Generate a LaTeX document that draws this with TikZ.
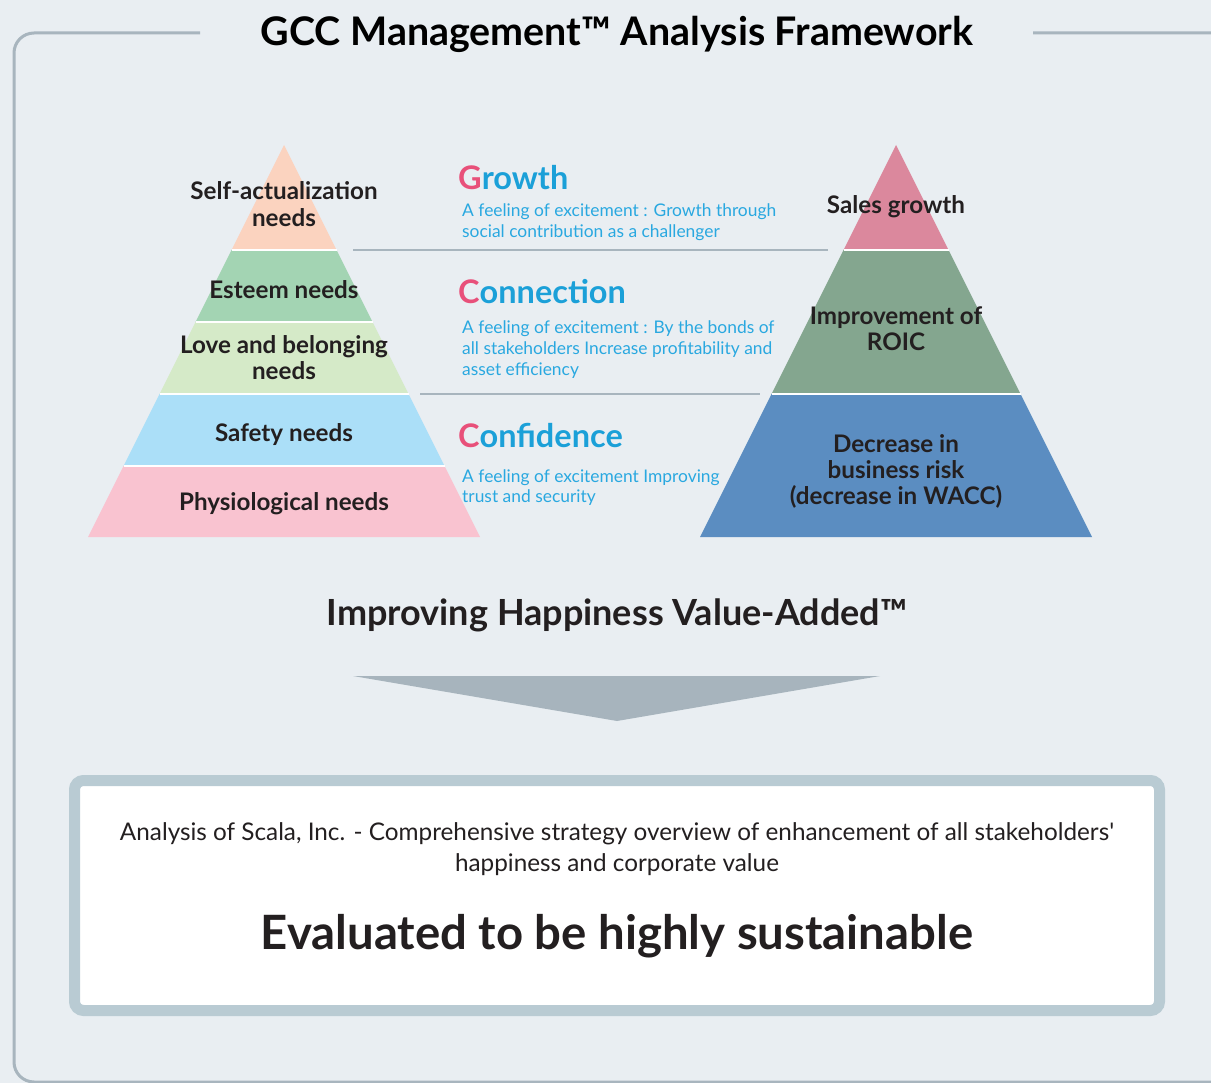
\documentclass[tikz,border=0pt]{standalone}
\usepackage{fontspec}
\setmainfont{Lato}[Ligatures=TeXOff]
\definecolor{bg}{HTML}{E9EEF2}
\definecolor{framec}{HTML}{A8B5BE}
\definecolor{peach}{HTML}{FBD3BF}
\definecolor{mgreen}{HTML}{A3D4B3}
\definecolor{lgreen}{HTML}{D5EAC8}
\definecolor{lblue}{HTML}{ABDFF8}
\definecolor{lpink}{HTML}{F9C3D0}
\definecolor{rpink}{HTML}{DB889D}
\definecolor{rgreen}{HTML}{84A68F}
\definecolor{rblue}{HTML}{5B8DC1}
\definecolor{txt}{HTML}{231F20}
\definecolor{hpink}{HTML}{E8507A}
\definecolor{hblue}{HTML}{1BA0D8}
\definecolor{dblue}{HTML}{29A8E0}
\definecolor{arrowc}{HTML}{A7B4BD}
\definecolor{boxc}{HTML}{B9CBD3}
\tikzset{
  layer/.style={fill=#1},
  lbl/.style={text=txt, font=\fontsize{24.2}{27}\selectfont\bfseries, anchor=base, inner sep=0pt},
  head/.style={text=hblue, font=\fontsize{32.5}{36}\selectfont\bfseries, anchor=base west, inner sep=0pt},
  desc/.style={text=dblue, font=\fontsize{17.4}{21}\selectfont, anchor=base west, inner sep=0pt},
  sep/.style={draw=framec, line width=2pt},
}
\begin{document}
\begin{tikzpicture}[x=1pt,y=-1pt]
\useasboundingbox (0,0) rectangle (1211,1083);
\clip (0,0) rectangle (1211,1083);
\fill[bg] (0,0) rectangle (1211,1083);
% frame
\draw[framec, line width=3pt, rounded corners=20pt] (200,33) -- (14,33) -- (14,1082) -- (1240,1082) -- (1240,33) -- (1033,33);
% left pyramid
\fill[layer=peach] (284,145) -- (336.5,250) -- (231.5,250) -- cycle;
\fill[layer=mgreen] (231.5,250) -- (336.5,250) -- (372.5,322) -- (195.5,322) -- cycle;
\fill[layer=lgreen] (195.5,322) -- (372.5,322) -- (408.5,394) -- (159.5,394) -- cycle;
\fill[layer=lblue] (159.5,394) -- (408.5,394) -- (444.5,466) -- (123.5,466) -- cycle;
\fill[layer=lpink] (123.5,466) -- (444.5,466) -- (480,537) -- (88,537) -- cycle;
\draw[white, line width=2pt] (231.5,250) -- (336.5,250) (195.5,322) -- (372.5,322) (159.5,394) -- (408.5,394) (123.5,466) -- (444.5,466);
% right pyramid
\fill[layer=rpink] (896,145) -- (948.5,250) -- (843.5,250) -- cycle;
\fill[layer=rgreen] (843.5,250) -- (948.5,250) -- (1020.5,394) -- (771.5,394) -- cycle;
\fill[layer=rblue] (771.5,394) -- (1020.5,394) -- (1092,537) -- (700,537) -- cycle;
\draw[white, line width=2pt] (843.5,250) -- (948.5,250) (771.5,394) -- (1020.5,394);
% separators
\coordinate (s1a) at (353,250); \coordinate (s1b) at (828,250);
\coordinate (s2a) at (420,394); \coordinate (s2b) at (760,394);
\draw[sep] (s1a) -- (s1b);
\draw[sep] (s2a) -- (s2b);
% arrow and result box
\fill[arrowc] (353,676) -- (880,676) -- (617,721) -- cycle;
\coordinate (arrowtip) at (617,721);
\draw[draw=boxc, fill=white, line width=11pt, rounded corners=9pt] (74.5,780.5) rectangle (1159.5,1010.5);
\begin{scope}[yshift=-2pt]
\node[text=black, font=\fontsize{39.4}{44}\selectfont\bfseries, anchor=base, inner sep=0pt] (title) at (617,44) {GCC Management™ Analysis Framework};
\node[lbl] (self1) at (284,198) {Self-actualization};
\node[lbl] (self2) at (284,225) {needs};
\node[lbl] (esteem) at (284,297) {Esteem needs};
\node[lbl] (love1) at (284,352) {Love and belonging};
\node[lbl] (love2) at (284,378) {needs};
\node[lbl] (safety) at (284,440) {Safety needs};
\node[lbl] (phys) at (284,508) {Physiological needs};
\node[lbl] (sales) at (896,212) {Sales growth};
\node[lbl] (roic1) at (896,323) {Improvement of};
\node[lbl] (roic2) at (896,349) {ROIC};
\node[lbl] (wacc1) at (896,450) {Decrease in};
\node[lbl] (wacc2) at (896,476) {business risk};
\node[lbl] (wacc3) at (896,502) {(decrease in WACC)};
\node[head] (growth) at (458,188) {\textcolor{hpink}{G}rowth};
\node[desc] (growthd1) at (462,215) {A feeling of excitement : Growth through};
\node[desc] (growthd2) at (462,236) {social contribution as a challenger};
\node[head] (conn) at (458,302) {\textcolor{hpink}{C}onnection};
\node[desc] (connd1) at (462,332) {A feeling of excitement : By the bonds of};
\node[desc] (connd2) at (462,353) {all stakeholders Increase profitability and};
\node[desc] (connd3) at (462,374) {asset efficiency};
\node[head] (conf) at (458,445) {\textcolor{hpink}{C}onfidence};
\node[desc] (confd1) at (462,480) {A feeling of excitement Improving};
\node[desc] (confd2) at (462,500) {trust and security};
\node[text=txt, font=\fontsize{36}{40}\selectfont\bfseries, anchor=base, inner sep=0pt] (improve) at (617,623) {Improving Happiness Value-Added™};
\node[text=txt, font=\fontsize{24.3}{30}\selectfont, anchor=base, inner sep=0pt] (analysis1) at (617,838) {Analysis of Scala, Inc. - Comprehensive strategy overview of enhancement of all stakeholders'};
\node[text=txt, font=\fontsize{24.3}{30}\selectfont, anchor=base, inner sep=0pt] (analysis2) at (617,869) {happiness and corporate value};
\node[text=txt, font=\fontsize{47.3}{52}\selectfont\bfseries, anchor=base, inner sep=0pt] (eval) at (617,947) {Evaluated to be highly sustainable};
\end{scope}
\end{tikzpicture}
\end{document}
